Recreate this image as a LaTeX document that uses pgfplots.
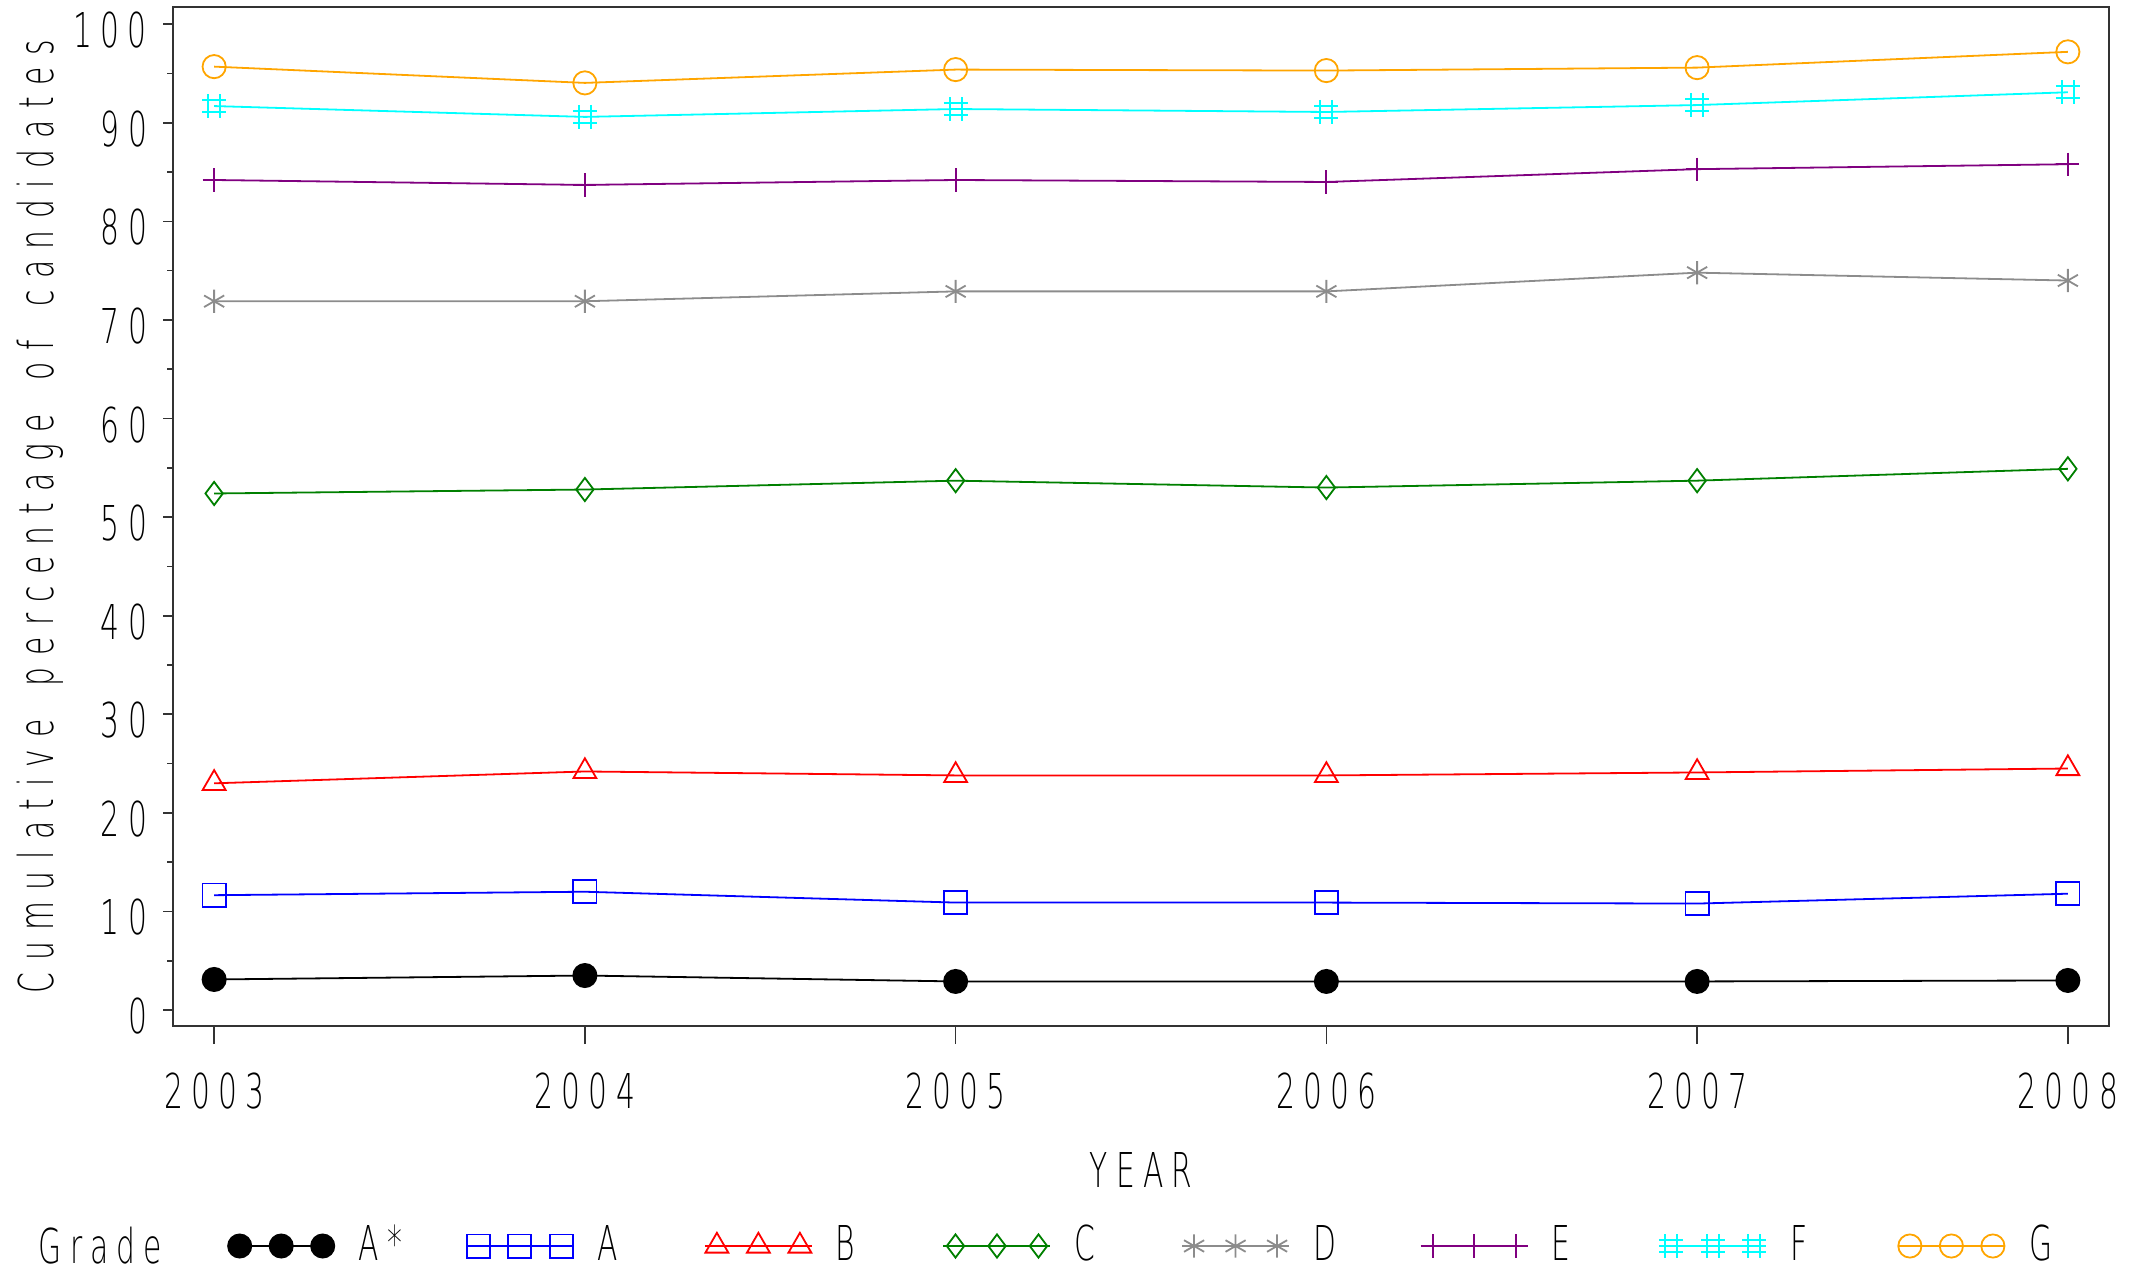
\documentclass[border=0pt]{standalone}
\usepackage{pgfplots}
\pgfplotsset{compat=1.18}
\usepackage{fontspec}
\IfFontExistsTF{DejaVu Sans ExtraLight}{%
  \setmainfont{DejaVu Sans ExtraLight}[FakeStretch=0.62, LetterSpace=17]%
  \newfontfamily\ylfont{DejaVu Sans ExtraLight}[FakeStretch=0.62, LetterSpace=24, WordSpace=1.6]%
}{%
  \setmainfont{Liberation Sans}[FakeStretch=0.62, LetterSpace=17]%
  \newfontfamily\ylfont{Liberation Sans}[FakeStretch=0.62, LetterSpace=24, WordSpace=1.6]%
}
\definecolor{cAs}{RGB}{0,0,0}
\definecolor{cA}{RGB}{0,0,255}
\definecolor{cB}{RGB}{255,0,0}
\definecolor{cC}{RGB}{0,128,0}
\definecolor{cD}{RGB}{140,140,140}
\definecolor{cE}{RGB}{128,0,128}
\definecolor{cF}{RGB}{0,255,255}
\definecolor{cG}{RGB}{255,165,0}
\pgfdeclareplotmark{hash}{%
  \pgfpathmoveto{\pgfqpoint{-0.5\pgfplotmarksize}{\pgfplotmarksize}}%
  \pgfpathlineto{\pgfqpoint{-0.5\pgfplotmarksize}{-\pgfplotmarksize}}%
  \pgfpathmoveto{\pgfqpoint{0.5\pgfplotmarksize}{\pgfplotmarksize}}%
  \pgfpathlineto{\pgfqpoint{0.5\pgfplotmarksize}{-\pgfplotmarksize}}%
  \pgfpathmoveto{\pgfqpoint{-\pgfplotmarksize}{0.5\pgfplotmarksize}}%
  \pgfpathlineto{\pgfqpoint{\pgfplotmarksize}{0.5\pgfplotmarksize}}%
  \pgfpathmoveto{\pgfqpoint{-\pgfplotmarksize}{-0.5\pgfplotmarksize}}%
  \pgfpathlineto{\pgfqpoint{\pgfplotmarksize}{-0.5\pgfplotmarksize}}%
  \pgfusepathqstroke}
\newcommand{\cf}{\fontsize{12}{13}\selectfont}
\newcommand{\ylf}{\ylfont\fontsize{12}{13}\selectfont}
\begin{document}
\begin{tikzpicture}
\path[use as bounding box] (-43.25pt,-61.75pt) rectangle (491.5pt,256.5pt);
\begin{axis}[
  at={(0pt,0pt)}, anchor=south west,
  scale only axis, width=484pt, height=254.75pt,
  xmin=2002.889, xmax=2008.111, ymin=-1.62, ymax=101.75,
  xtick={2003,2004,2005,2006,2007,2008},
  xticklabels={2003,2004,2005,2006,2007,2008},
  ytick={0,10,...,100}, minor ytick={5,15,...,95},
  tick align=outside, xtick pos=bottom, ytick pos=left,
  major tick length=2.5pt, minor tick length=1.5pt,
  axis line style={line width=0.4pt, black!80},
  tick style={line width=0.4pt, black!80},
  /pgf/number format/assume math mode=true,
  tick label style={font=\cf},
  xticklabel style={yshift=-5.6pt},
  yticklabel style={xshift=-0.5pt, yshift=-1.5pt},
  xlabel={YEAR}, ylabel={Cumulative percentage of candidates},
  xlabel style={font=\cf, at={(axis description cs:0.5,-0.1413)}, anchor=center},
  ylabel style={font=\ylf, at={(axis description cs:-0.0687,0.5)}, anchor=center, rotate=0},
  legend image code/.code={\draw[#1] (-3pt,0pt) -- (23.75pt,0pt); \draw[#1] plot coordinates {(0pt,0pt) (10.375pt,0pt) (20.75pt,0pt)};},
  legend style={at={(axis description cs:0.02738,-0.2159)}, anchor=west, draw=none, fill=none,
    legend columns=-1, inner sep=0pt, font=\cf,
    nodes={inner sep=0pt},
    /tikz/every odd column/.append style={column sep=5.8pt},
    /tikz/every even column/.append style={column sep=4.65pt}},
  every axis plot/.append style={line width=0.45pt},
  clip=false,
]
\addplot[color=cAs, mark=*, mark size=2.9pt] coordinates {(2003,3.1)(2004,3.5)(2005,2.9)(2006,2.9)(2007,2.9)(2008,3.0)};
\addlegendentry{\makebox[22pt][l]{A*}}
\addplot[color=cA, mark=square, mark size=2.9pt] coordinates {(2003,11.65)(2004,12.0)(2005,10.9)(2006,10.9)(2007,10.8)(2008,11.8)};
\addlegendentry{\makebox[22pt][l]{A}}
\addplot[color=cB, mark=triangle, mark size=3.3pt] coordinates {(2003,23.0)(2004,24.2)(2005,23.8)(2006,23.8)(2007,24.1)(2008,24.5)};
\addlegendentry{\makebox[22pt][l]{B}}
\addplot[color=cC, mark=diamond, mark size=2.9pt] coordinates {(2003,52.4)(2004,52.8)(2005,53.7)(2006,53.0)(2007,53.7)(2008,54.9)};
\addlegendentry{\makebox[22pt][l]{C}}
\addplot[color=cD, mark=asterisk, mark size=2.9pt] coordinates {(2003,71.9)(2004,71.9)(2005,72.9)(2006,72.9)(2007,74.8)(2008,74.0)};
\addlegendentry{\makebox[22pt][l]{D}}
\addplot[color=cE, mark=+, mark size=2.9pt] coordinates {(2003,84.2)(2004,83.7)(2005,84.2)(2006,84.0)(2007,85.3)(2008,85.8)};
\addlegendentry{\makebox[22pt][l]{E}}
\addplot[color=cF, mark=hash, mark size=3pt] coordinates {(2003,91.7)(2004,90.6)(2005,91.4)(2006,91.1)(2007,91.8)(2008,93.1)};
\addlegendentry{\makebox[22pt][l]{F}}
\addplot[color=cG, mark=o, mark size=2.9pt] coordinates {(2003,95.7)(2004,94.05)(2005,95.4)(2006,95.3)(2007,95.6)(2008,97.2)};
\addlegendentry{\makebox[22pt][l]{G}}
\node[anchor=west, font=\cf, inner sep=0pt] at ([xshift=-33.75pt,yshift=-55pt]rel axis cs:0,0) {Grade};
\end{axis}
\begin{axis}[
  at={(0pt,0pt)}, anchor=south west,
  scale only axis, width=484pt, height=254.75pt,
  xmin=2002.889, xmax=2008.111, ymin=-1.62, ymax=101.75,
  axis x line*=bottom, axis y line=none,
  xtick={2003,2004,2005,2006,2007,2008}, xticklabels={},
  tick align=outside, major tick length=4.5pt,
  axis line style={line width=0.4pt, black!80, -},
  tick style={line width=0.4pt, black!80},
]
\end{axis}
\end{tikzpicture}
\end{document}
